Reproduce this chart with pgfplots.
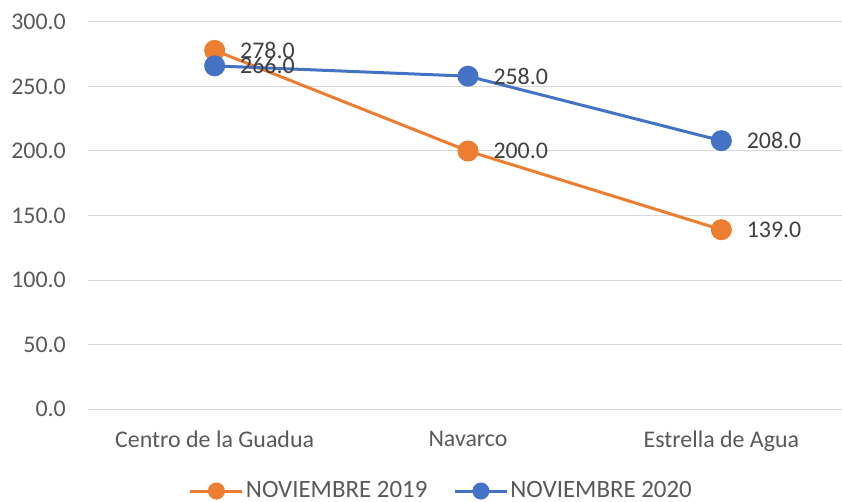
\documentclass[border=0pt]{standalone}
\usepackage{pgfplots}
\pgfplotsset{compat=1.18}
\usepackage{fontspec}
\setmainfont{Carlito}
\definecolor{orng}{HTML}{ED7D31}
\definecolor{blu}{HTML}{4472C4}
\definecolor{tickc}{HTML}{595959}
\definecolor{labc}{HTML}{404040}
\definecolor{gridc}{HTML}{D9D9D9}
\begin{document}
\fontsize{24}{28}\selectfont
\begin{tikzpicture}
\begin{axis}[
  at={(0,0)}, anchor=south west,
  scale only axis, width=760bp, height=387bp,
  xmin=-0.5, xmax=2.5, ymin=0, ymax=300,
  xtick={0,1,2},
  xticklabels={Centro de la Guadua,Navarco,Estrella de Agua},
  ytick={0,50,...,300},
  yticklabel style={xshift=-14bp},
  y tick label style={/pgf/number format/.cd,fixed,fixed zerofill,precision=1},
  /pgf/number format/assume math mode=true,
  ticklabel style={font=\fontsize{24}{28}\selectfont, text=tickc},
  xticklabel style={yshift=-14bp},
  axis x line*=bottom,
  axis y line*=left,
  x axis line style={draw=gridc, line width=1bp},
  y axis line style={draw=none},
  major tick length=0pt,
  ymajorgrids, grid style={draw=gridc, line width=1bp},
  nodes near coords,
  nodes near coords style={anchor=west, inner sep=0pt, xshift=24bp, text=labc, font=\fontsize{24}{28}\selectfont,
    /pgf/number format/.cd, fixed, fixed zerofill, precision=1, assume math mode=true},
  legend style={at={(0.465,-0.212)}, anchor=center, draw=none, legend columns=2,
    inner sep=0pt, font=\fontsize{25}{29}\selectfont, text=tickc,
    /tikz/every even column/.append style={column sep=24bp}},
  legend image code/.code={
    \draw[#1, mark=none] (0bp,0bp) -- (52bp,0bp);
    \draw[#1, mark size=7bp] plot coordinates {(26bp,0bp)};
  },
]
\addplot[orng, line width=3bp, mark=*, mark size=9bp, mark options={fill=orng, draw=orng}]
  coordinates {(0,278) (1,200) (2,139)};
\addlegendentry{NOVIEMBRE 2019}
\addplot[blu, line width=3bp, mark=*, mark size=9bp, mark options={fill=blu, draw=blu}]
  coordinates {(0,266) (1,258) (2,208)};
\addlegendentry{NOVIEMBRE 2020}
\end{axis}
\pgfresetboundingbox
\path (-88bp,-93bp) rectangle (754bp,409bp);
\end{tikzpicture}
\end{document}
